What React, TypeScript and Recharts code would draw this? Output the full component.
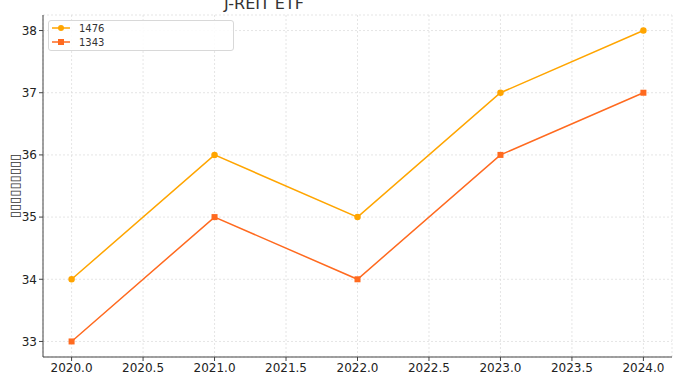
import React from "react";
import { LineChart, Line, XAxis, YAxis, CartesianGrid } from "recharts";

const years = [2020, 2021, 2022, 2023, 2024];
const etf1476 = [34, 36, 35, 37, 38];
const etf1343 = [33, 35, 34, 36, 37];
const xTicks = [2020, 2020.5, 2021, 2021.5, 2022, 2022.5, 2023, 2023.5, 2024];
const yTicks = [33, 34, 35, 36, 37, 38];

const data = years.map((y, i) => ({ year: y, a: etf1476[i], b: etf1343[i] }));

const C1 = "#FFA500";
const C2 = "#FF6A1F";
const FONT = "DejaVu Sans, sans-serif";

function LegendBox() {
  const items = [
    { name: "1476", color: C1, square: false },
    { name: "1343", color: C2, square: true },
  ];
  return (
    <div
      style={{
        position: "absolute",
        left: 48,
        top: 20,
        width: 184,
        height: 29,
        border: "1px solid #d8d8d8",
        borderRadius: 3,
        background: "rgba(255,255,255,0.85)",
        fontFamily: FONT,
        fontSize: 10,
        color: "#333",
      }}
    >
      {items.map((it, i) => (
        <div
          key={it.name}
          style={{ position: "absolute", left: 2, top: 1 + i * 14, height: 12, display: "flex", alignItems: "center" }}
        >
          <svg width={20} height={12}>
            <line x1={1} y1={6} x2={19} y2={6} stroke={it.color} strokeWidth={1.5} />
            {it.square ? (
              <rect x={7} y={3} width={6} height={6} fill={it.color} />
            ) : (
              <circle cx={10} cy={6} r={3} fill={it.color} />
            )}
          </svg>
          <span style={{ marginLeft: 8 }}>{it.name}</span>
        </div>
      ))}
    </div>
  );
}

const Square = (props: any) => {
  const { cx, cy } = props;
  return <rect x={cx - 3} y={cy - 3} width={6} height={6} fill={C2} />;
};

export default function App() {
  return (
    <div style={{ position: "absolute", left: 0, top: 0, width: 682, height: 384, background: "#fff", overflow: "hidden" }}>
      <LineChart width={682} height={384} data={data} margin={{ top: 15, right: 10, left: 0, bottom: 0 }}>
        <CartesianGrid stroke="#dadada" strokeDasharray="2 2" strokeWidth={0.7} />
        <XAxis
          dataKey="year"
          type="number"
          domain={[2019.8, 2024.2]}
          ticks={xTicks}
          tickFormatter={(v: number) => v.toFixed(1)}
          height={27}
          stroke="#444"
          tickSize={4}
          tick={{ fontSize: 12, fill: "#222", fontFamily: FONT }}
          allowDataOverflow
        />
        <YAxis
          type="number"
          domain={[32.75, 38.25]}
          ticks={yTicks}
          width={43}
          stroke="#444"
          tickSize={4}
          tick={{ fontSize: 12, fill: "#222", fontFamily: FONT }}
          allowDataOverflow
          label={{
            value: "▯▯▯▯▯▯▯▯▯",
            angle: -90,
            position: "insideLeft",
            dx: 9,
            dy: 0,
            style: { fontSize: 13, fill: "#333", fontFamily: FONT, textAnchor: "middle" },
          }}
        />
        <Line
          dataKey="a"
          name="1476"
          stroke={C1}
          strokeWidth={1.5}
          dot={{ r: 2.5, fill: C1, stroke: C1 }}
          isAnimationActive={false}
        />
        <Line dataKey="b" name="1343" stroke={C2} strokeWidth={1.5} dot={<Square />} isAnimationActive={false} />
      </LineChart>
      <LegendBox />
      <svg width={682} height={20} style={{ position: "absolute", left: 0, top: 0 }}>
        <text x={264} y={9} textAnchor="middle" fontSize={16} fill="#333" fontFamily={FONT}>
          J-REIT ETF
        </text>
      </svg>
    </div>
  );
}
